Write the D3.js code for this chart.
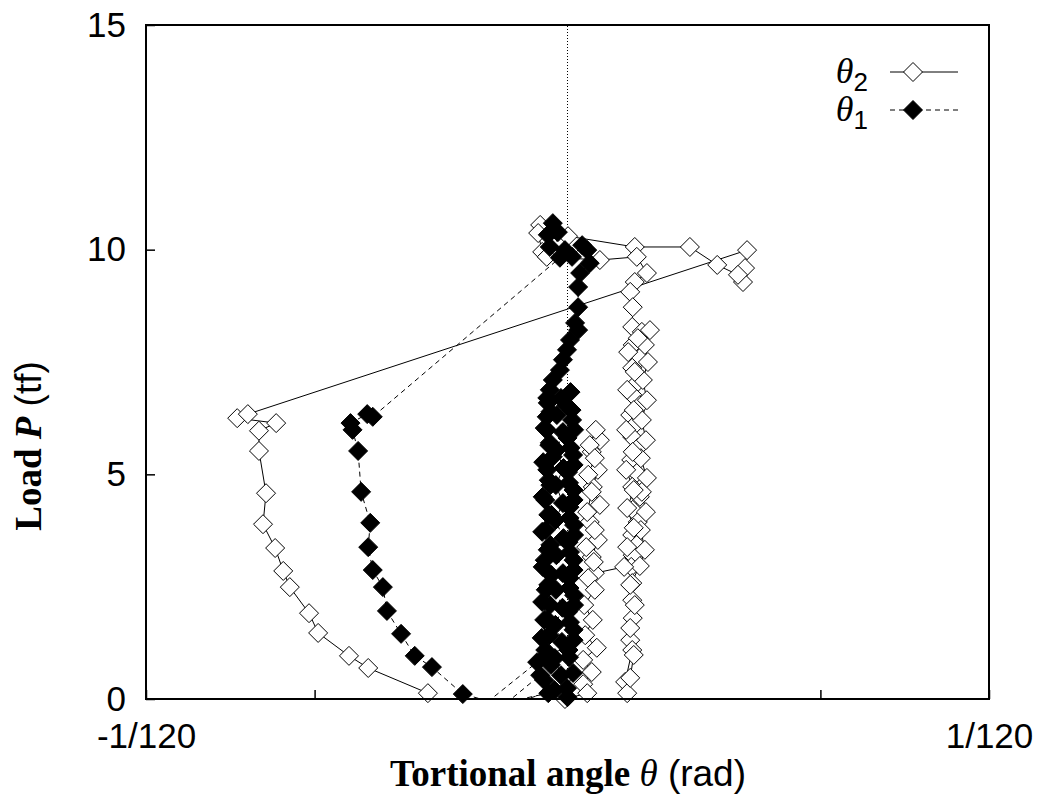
<!DOCTYPE html>
<html>
<head>
<meta charset="utf-8">
<script src="https://cdn.jsdelivr.net/npm/d3@7"></script>
<style>
body { margin: 0; background: #fff; }
text { fill: #000; }
</style>
</head>
<body>
<svg id="chart" width="1043" height="796"></svg>
<script>
// torsional angle in 1e-3 rad, load P in tf
var theta2 = [-2.76, -3.94, -4.32, -4.93, -5.11, -5.49, -5.62, -5.78, -6.02, -5.96, -6.10, -6.10, -5.76, -6.53, -6.32,
  3.55, 3.51, 3.47, 3.37, 2.96, 2.42, 1.33, 0.01, -0.54, -0.58, -0.50, -0.41, 0.64,
  1.37, 1.57, 1.33, 1.24, 1.29, 1.28, 1.47, 1.29, 1.43, 1.28, 1.37, 1.28, 1.43, 1.24, 1.33, 1.28, 1.39, 1.26, 1.37, 1.28, 1.43, 1.29, 1.39, 1.28, 1.37, 1.29, 1.26, 1.28, 1.28, 1.29, 1.24, 1.28, 1.14, 1.18,
  1.24, 1.31, 1.24, 1.33, 1.24, 1.43, 1.53, 1.45, 1.55, 1.47, 1.57, 1.45, 1.55, 1.47, 1.57, 1.49, 1.59, 1.53, 1.63,
  1.39, 1.20, 1.33, 1.18, 1.31, 1.16, 1.29, 1.16, 1.31, 1.18, 1.31, 1.18, 1.12,
  0.54, 0.48, 0.60, 0.44, 0.64, 0.50, 0.60, 0.48, 0.64, 0.56,
  0.44, 0.54, 0.41, 0.48, 0.39, 0.54, 0.37, 0.52, 0.41, 0.54, 0.33, 0.50, 0.35, 0.58, 0.31, 0.48, 0.31, 0.39, -0.05];
var load2 = [0.13, 0.69, 0.96, 1.47, 1.91, 2.49, 2.85, 3.36, 3.89, 4.58, 5.52, 5.97, 6.14, 6.25, 6.34,
  9.99, 9.59, 9.28, 9.44, 9.66, 10.06, 10.06, 10.30, 10.55, 10.37, 9.95, 9.84, 9.77,
  9.84, 9.48, 9.28, 9.06, 8.72, 8.28, 8.17, 7.88, 7.59, 7.37, 7.03, 6.77, 6.54, 6.32, 6.10, 5.83, 5.59, 5.32, 5.03, 4.72, 4.50, 4.21, 3.94, 3.65, 3.43, 3.20, 2.94, 2.58, 2.20, 1.80, 1.31, 1.09, 0.38, 0.13,
  0.47, 0.98, 1.58, 2.09, 2.54, 2.96, 3.32, 3.76, 4.16, 4.61, 4.92, 5.36, 5.76, 6.21, 6.65, 7.10, 7.50, 7.88, 8.21,
  8.03, 7.72, 7.28, 6.88, 6.43, 5.99, 5.50, 5.10, 4.65, 4.25, 3.81, 3.38, 2.94,
  2.80, 3.16, 3.54, 3.94, 4.32, 4.72, 5.10, 5.50, 5.76, 5.99,
  5.65, 5.36, 4.99, 4.61, 4.16, 3.76, 3.38, 3.05, 2.69, 2.43, 2.09, 1.76, 1.42, 1.14, 0.87, 0.60, 0.33, 0.13, 0.00];

var theta1 = [-0.90, -2.07, -2.68, -3.02, -3.29, -3.57, -3.65, -3.85, -3.94, -3.90, -4.08, -4.14, -4.25, -4.29, -3.96, -3.85,
  -0.15, -0.29, -0.39, -0.19, -0.35, -0.05, 0.09, 0.29, 0.39, 0.44, 0.25, 0.21, 0.21, 0.15, 0.21, 0.05, -0.01, -0.09, -0.15, -0.29, -0.35, -0.39, -0.41, -0.41, -0.35, -0.29,
  -0.40, -0.34, -0.44, -0.32, -0.43, -0.34, -0.45, -0.32, -0.43, -0.35, -0.46, -0.36, -0.44, -0.33, -0.46, -0.38, -1.73,
  -0.60, 0.02, 0.12, 0.01, 0.13, 0.04, 0.12, 0.02, 0.13, 0.04, 0.12, 0.01, 0.11, 0.00, 0.09, -0.02, 0.06,
  -0.13, -0.21, -0.09, -0.22, -0.08, -0.23, -0.09, -0.24, -0.08, -0.22, -0.09, -0.23, -0.10, -0.24, -0.11, -0.25, -0.13, -0.26, -1.33,
  -0.54, -0.41, -0.51, -0.39, -0.50, -0.38, -0.49, -0.39, -0.50, -0.38, -0.49, -0.37, -0.48, -0.36, -0.45, -0.34, -0.40,
  0.08, 0.13, 0.06, 0.12, 0.03, 0.12, 0.04, 0.13, 0.05, 0.12, 0.04, 0.13, 0.05, 0.12, 0.03, 0.11, -0.01, 0.00];
var load1 = [-0.25, 0.11, 0.71, 0.96, 1.45, 1.96, 2.49, 2.87, 3.38, 3.92, 4.61, 5.52, 5.99, 6.14, 6.34, 6.28,
  9.82, 10.59, 10.33, 10.39, 10.06, 9.99, 9.84, 10.10, 9.99, 9.70, 9.48, 9.17, 8.72, 8.37, 8.21, 7.99, 7.77, 7.55, 7.32, 7.10, 6.88, 6.59, 6.28, 5.99, 5.70, 5.39,
  5.10, 4.76, 4.43, 4.10, 3.76, 3.43, 3.09, 2.76, 2.43, 2.09, 1.76, 1.42, 1.09, 0.76, 0.42, 0.13, -0.20,
  0.82, 1.09, 1.54, 1.94, 2.31, 2.69, 3.09, 3.49, 3.87, 4.27, 4.65, 5.05, 5.43, 5.81, 6.21, 6.54, 6.83,
  6.70, 6.32, 5.94, 5.54, 5.14, 4.76, 4.36, 3.98, 3.58, 3.20, 2.80, 2.43, 2.03, 1.65, 1.27, 0.91, 0.53, 0.20, -0.20,
  0.53, 0.98, 1.36, 1.76, 2.16, 2.54, 2.94, 3.32, 3.72, 4.10, 4.50, 4.87, 5.27, 5.65, 6.03, 6.39, 6.70,
  6.43, 5.99, 5.59, 5.21, 4.81, 4.43, 4.03, 3.65, 3.27, 2.87, 2.47, 2.09, 1.71, 1.31, 0.93, 0.58, 0.24, 0.04];

var yTicks = [0, 5, 10, 15];
var xTicks = [-1/120, -0.005, 0.005, 1/120];
var xTickLabels = ["-1/120", "", "", "1/120"];

var svg = d3.select("#chart");
var plotL = 146, plotR = 989, plotT = 25, plotB = 699;

var x = d3.scaleLinear().domain([-1/120, 1/120]).range([plotL, plotR]);
var y = d3.scaleLinear().domain([0, 15]).range([plotB, plotT]);

var sans = "'Liberation Sans', Arial, sans-serif";
var serif = "'Liberation Serif', 'Times New Roman', serif";

function toPoints(th, p) {
  return th.map(function (t, i) { return { t: t / 1000, p: p[i] }; });
}
var s2 = toPoints(theta2, load2);
var s1 = toPoints(theta1, load1);

svg.append("clipPath").attr("id", "plotArea")
  .append("rect").attr("x", plotL).attr("y", plotT).attr("width", plotR - plotL).attr("height", plotB - plotT);

// zero line
svg.append("line")
  .attr("x1", x(0)).attr("x2", x(0)).attr("y1", y(0)).attr("y2", y(15))
  .attr("stroke", "#000").attr("stroke-width", 1).attr("stroke-dasharray", "1,2");

var line = d3.line().x(function (d) { return x(d.t); }).y(function (d) { return y(d.p); });
var diamond = "M0,-9.5L9.5,0L0,9.5L-9.5,0Z";

function drawSeries(data, fill, dash) {
  svg.append("path").datum(data)
    .attr("clip-path", "url(#plotArea)")
    .attr("d", line)
    .attr("fill", "none").attr("stroke", "#000").attr("stroke-width", 1)
    .attr("stroke-dasharray", dash);
  svg.append("g").selectAll("path")
    .data(data.filter(function (d) { return d.p >= 0; }))
    .enter().append("path")
    .attr("d", diamond)
    .attr("transform", function (d) { return "translate(" + x(d.t) + "," + y(d.p) + ")"; })
    .attr("fill", fill).attr("stroke", "#000").attr("stroke-width", 1);
}
drawSeries(s2, "#fff", null);
drawSeries(s1, "#000", "5,4");

// frame
svg.append("rect").attr("x", plotL).attr("y", plotT).attr("width", plotR - plotL).attr("height", plotB - plotT)
  .attr("fill", "none").attr("stroke", "#000").attr("stroke-width", 2);

var yAxis = svg.append("g").attr("transform", "translate(" + plotL + ",0)")
  .call(d3.axisLeft(y).tickValues(yTicks).tickSize(-9).tickPadding(20).tickFormat(d3.format("d")));
var xAxis = svg.append("g").attr("transform", "translate(0," + plotB + ")")
  .call(d3.axisBottom(x).tickValues(xTicks).tickSize(-9).tickPadding(24)
    .tickFormat(function (d, i) { return xTickLabels[i]; }));
[yAxis, xAxis].forEach(function (a) {
  a.select(".domain").remove();
  a.selectAll(".tick line").attr("stroke", "#000").attr("stroke-width", 1.5);
  a.selectAll(".tick text").attr("font-family", sans).attr("font-size", 35).attr("fill", "#000");
});

// axis titles
var xt = svg.append("text").attr("x", 568).attr("y", 786).attr("text-anchor", "middle").attr("font-size", 37);
xt.append("tspan").attr("font-family", serif).attr("font-weight", "bold").text("Tortional angle ");
xt.append("tspan").attr("font-family", serif).attr("font-style", "italic").text("\u03b8");
xt.append("tspan").attr("font-family", sans).text(" (rad)");

var yt = svg.append("text").attr("transform", "translate(41,446) rotate(-90)").attr("text-anchor", "middle").attr("font-size", 37);
yt.append("tspan").attr("font-family", serif).attr("font-weight", "bold").text("Load ");
yt.append("tspan").attr("font-family", serif).attr("font-weight", "bold").attr("font-style", "italic").text("P");
yt.append("tspan").attr("font-family", sans).text(" (tf)");

// legend
var legend = [
  { sub: "2", fill: "#fff", dash: null, yy: 72 },
  { sub: "1", fill: "#000", dash: "5,4", yy: 110 }
];
legend.forEach(function (l) {
  var t = svg.append("text").attr("x", 868).attr("y", l.yy + 11).attr("text-anchor", "end");
  t.append("tspan").attr("font-family", serif).attr("font-style", "italic").attr("font-size", 36).text("\u03b8");
  t.append("tspan").attr("font-family", sans).attr("font-size", 26).attr("dy", 8).text(l.sub);
  svg.append("line").attr("x1", 890).attr("x2", 958).attr("y1", l.yy).attr("y2", l.yy)
    .attr("stroke", "#000").attr("stroke-width", 1).attr("stroke-dasharray", l.dash);
  svg.append("path").attr("d", diamond).attr("transform", "translate(913," + l.yy + ")")
    .attr("fill", l.fill).attr("stroke", "#000").attr("stroke-width", 1);
});
</script>
</body>
</html>
